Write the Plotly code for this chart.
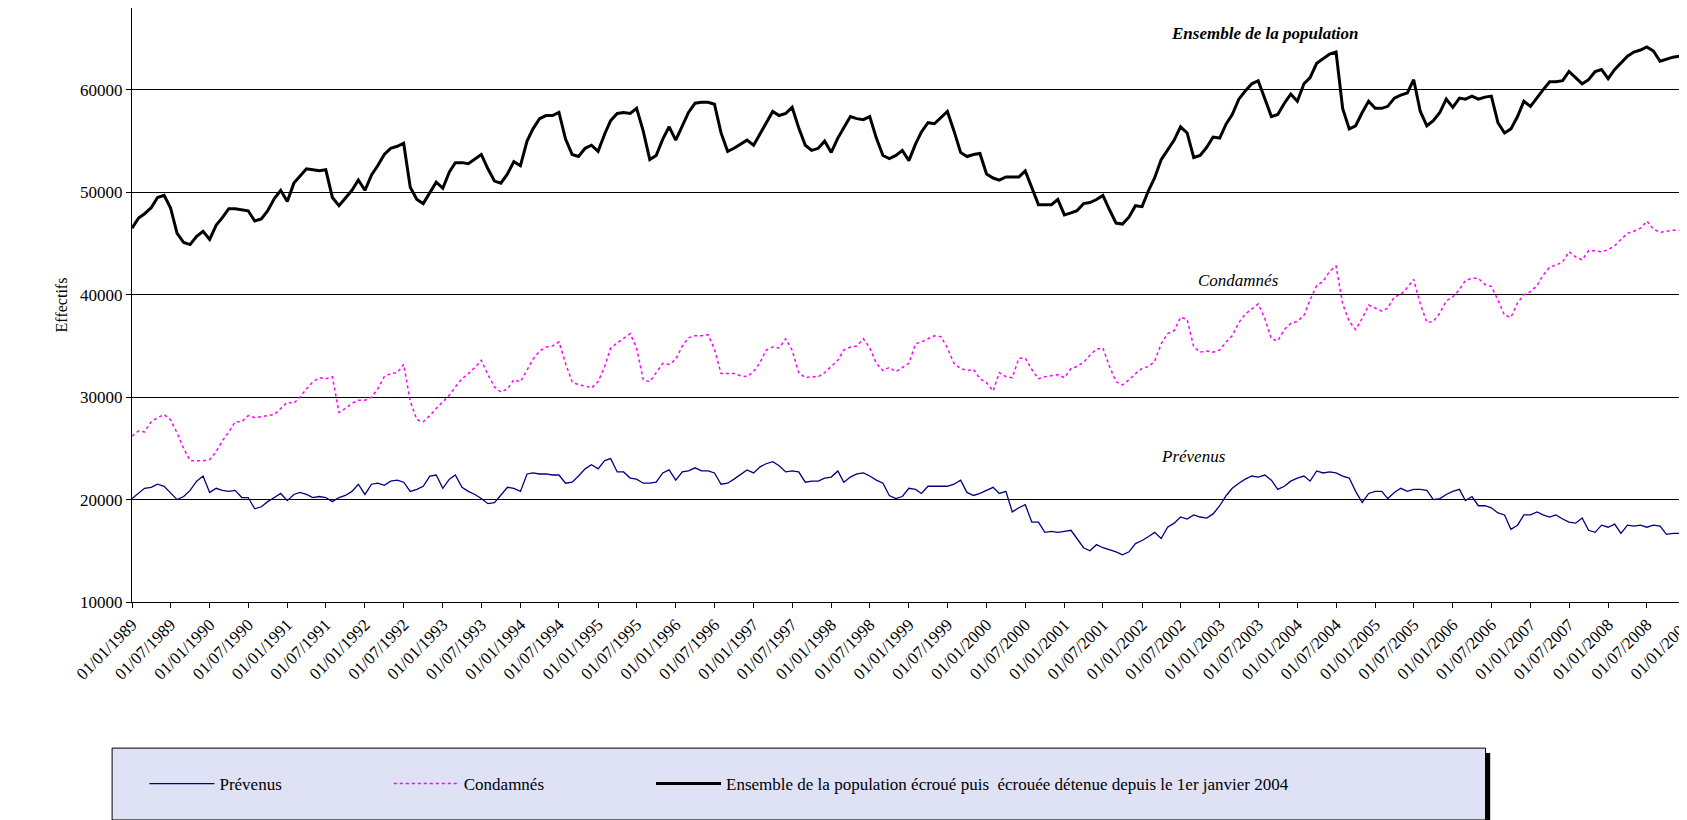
import plotly.graph_objects as go
import pandas as pd

# monthly values, Jan 1989 .. Jan 2009
ensemble = [
    46500, 47500, 47900, 48500, 49500, 49700, 48500, 46000, 45100, 44900, 45700, 46200,
    45400, 46800, 47500, 48400, 48400, 48300, 48200, 47200, 47400, 48200, 49400, 50200,
    49100, 50900, 51600, 52300, 52200, 52100, 52200, 49500, 48700, 49400, 50200, 51200,
    50200, 51700, 52600, 53700, 54300, 54500, 54800, 50500, 49300, 48900, 50000, 51000,
    50400, 52000, 52900, 52900, 52800, 53300, 53700, 52300, 51100, 50900, 51800, 53000,
    52600, 55000, 56200, 57200, 57500, 57500, 57800, 55200, 53700, 53500, 54300, 54600,
    54000, 55700, 57000, 57700, 57800, 57700, 58200, 56000, 53200, 53600, 55200, 56400,
    55100, 56500, 57800, 58700, 58800, 58800, 58600, 55800, 54000, 54300, 54700, 55100,
    54600, 55700, 56700, 57900, 57500, 57700, 58300, 56300, 54600, 54100, 54300, 55000,
    53900, 55300, 56300, 57400, 57200, 57100, 57400, 55300, 53600, 53300, 53600, 54100,
    53100, 54700, 55900, 56800, 56700, 57300, 57900, 56000, 53900, 53500, 53700, 53800,
    51800, 51400, 51200, 51500, 51500, 51500, 52100, 50500, 48800, 48800, 48800, 49300,
    47800, 48000, 48200, 48900, 49000, 49300, 49700, 48300, 47000, 46900, 47600, 48700,
    48600, 50200, 51400, 53200, 54200, 55100, 56400, 55800, 53400, 53600, 54400, 55400,
    55300, 56700, 57600, 59100, 59900, 60600, 60900, 59200, 57400, 57600, 58700, 59600,
    58900, 60600, 61200, 62600, 63000, 63500, 63700, 58200, 56200, 56500, 57800, 58900,
    58200, 58200, 58400, 59200, 59500, 59700, 61000, 57900, 56500, 57000, 57800, 59100,
    58300, 59200, 59100, 59400, 59100, 59300, 59400, 56800, 55800, 56200, 57400, 58900,
    58400, 59300, 60000, 60800, 60800, 60900, 61800, 61200, 60600, 61000, 61800, 62000,
    61100, 62000, 62600, 63300, 63700, 63900, 64200, 63800, 62800, 63000, 63200, 63300,
    63300,
]
condamnes = [
    26200, 26700, 26600, 27600, 28000, 28300, 27800, 26500, 25000, 23800, 23800, 23800,
    23900, 24700, 25700, 26600, 27600, 27600, 28200, 28000, 28100, 28200, 28300, 28900,
    29500, 29400, 30000, 30800, 31500, 31900, 31800, 32000, 28500, 28900, 29400, 29700,
    29700, 30000, 30800, 32000, 32300, 32400, 33200, 29600, 27800, 27600, 28200, 28900,
    29500, 30200, 31000, 31800, 32300, 32900, 33600, 32200, 31000, 30500, 30800, 31700,
    31500, 32700, 33700, 34500, 34900, 35000, 35400, 33300, 31500, 31200, 31100, 30900,
    31500, 33000, 34800, 35300, 35700, 36200, 34800, 31700, 31500, 32400, 33300, 33200,
    33700, 35000, 35800, 36000, 36000, 36100, 34700, 32300, 32300, 32300, 32100, 32000,
    32500, 33400, 34600, 34900, 34800, 35700, 34600, 32400, 31900, 32000, 32000, 32400,
    33000, 33600, 34600, 34900, 35000, 35700, 34800, 33300, 32600, 32900, 32500, 32900,
    33300, 35200, 35400, 35700, 36000, 35900, 34800, 33300, 32800, 32600, 32700, 31800,
    31400, 30600, 32400, 32000, 31900, 33800, 33800, 32700, 31800, 32000, 32100, 32200,
    31900, 32800, 33000, 33400, 34100, 34700, 34800, 33000, 31500, 31200, 31700, 32300,
    32800, 33000, 33500, 35200, 36200, 36500, 37800, 37600, 34900, 34400, 34500, 34400,
    34600, 35400, 36000, 37300, 38100, 38600, 39100, 37700, 35700, 35500, 36600, 37200,
    37400, 38000, 39500, 40900, 41300, 42300, 42800, 39100, 37400, 36600, 37700, 39000,
    38700, 38400, 38700, 39800, 40000, 40700, 41500, 39100, 37300, 37400, 38200, 39400,
    39800, 40500, 41400, 41600, 41600, 41000, 40800, 39500, 38000, 37800, 39200, 40000,
    40300, 40900, 41900, 42700, 42900, 43200, 44200, 43700, 43400, 44300, 44300, 44200,
    44400, 44800, 45400, 46000, 46200, 46500, 47200, 46400, 46100, 46200, 46300, 46300,
    46300,
]
prevenus = [
    20100, 20600, 21100, 21200, 21500, 21300, 20700, 20000, 20300, 20900, 21800, 22300,
    20700, 21100, 20900, 20800, 20900, 20200, 20200, 19100, 19300, 19800, 20200, 20600,
    19900, 20500, 20700, 20500, 20200, 20300, 20200, 19800, 20200, 20400, 20800, 21500,
    20500, 21500, 21600, 21400, 21800, 21900, 21700, 20800, 21000, 21300, 22300, 22400,
    21100, 22000, 22400, 21200, 20800, 20500, 20100, 19600, 19700, 20400, 21200, 21100,
    20800, 22500, 22600, 22500, 22500, 22400, 22400, 21600, 21700, 22300, 23000, 23400,
    23000, 23800, 24000, 22700, 22700, 22100, 22000, 21600, 21600, 21700, 22600, 22900,
    21900, 22700, 22800, 23100, 22800, 22800, 22600, 21500, 21600, 22000, 22500, 22900,
    22600, 23200, 23500, 23700, 23300, 22700, 22800, 22700, 21700, 21800, 21800, 22100,
    22200, 22800, 21700, 22200, 22500, 22600, 22300, 21900, 21600, 20400, 20100, 20300,
    21100, 21000, 20600, 21300, 21300, 21300, 21300, 21500, 21900, 20700, 20400, 20600,
    20900, 21200, 20600, 20800, 18800, 19200, 19500, 17800, 17800, 16800, 16900, 16800,
    16900, 17000, 16200, 15300, 15000, 15600, 15300, 15100, 14900, 14600, 14900, 15700,
    16000, 16400, 16800, 16200, 17300, 17700, 18300, 18100, 18500, 18300, 18200, 18600,
    19400, 20400, 21100, 21600, 22000, 22300, 22200, 22400, 21900, 21000, 21300, 21800,
    22100, 22300, 21800, 22800, 22600, 22700, 22600, 22300, 22100, 20800, 19700, 20600,
    20800, 20800, 20100, 20700, 21100, 20800, 21000, 21000, 20900, 20000, 20100, 20500,
    20800, 21000, 19900, 20300, 19400, 19400, 19200, 18700, 18500, 17100, 17500, 18500,
    18500, 18800, 18500, 18300, 18500, 18100, 17800, 17700, 18200, 17000, 16800, 17500,
    17300, 17600, 16700, 17500, 17400, 17500, 17300, 17500, 17400, 16600, 16700, 16700,
    16700,
]
dates = pd.date_range("1989-01-01", periods=len(ensemble), freq="MS")
tick_dates = pd.date_range("1989-01-01", "2009-01-01", freq="6MS")
tick_labels = [d.strftime("%d/%m/%Y") for d in tick_dates]
pad = "\u00a0" * 24

fig = go.Figure()
fig.add_trace(go.Scatter(x=dates, y=prevenus, mode="lines", name="Prévenus" + pad,
                         line=dict(color="#000080", width=1.3)))
fig.add_trace(go.Scatter(x=dates, y=condamnes, mode="lines", name="Condamnés" + pad,
                         line=dict(color="#ff00ff", width=1.5, dash="dot")))
fig.add_trace(go.Scatter(x=dates, y=ensemble, mode="lines",
                         name="Ensemble de la population écroué puis  écrouée détenue depuis le 1er janvier 2004",
                         line=dict(color="black", width=3)))

fig.add_annotation(x="2003-08-01", y=65500, text="<b><i>Ensemble de la population</i></b>",
                   showarrow=False, font=dict(size=17))
fig.add_annotation(x="2003-04-01", y=41400, text="<i>Condamnés</i>", showarrow=False, font=dict(size=17))
fig.add_annotation(x="2002-09-01", y=24200, text="<i>Prévenus</i>", showarrow=False, font=dict(size=17))

# legend box with shadow
fig.add_shape(type="rect", xref="paper", yref="paper", x0=-0.0096, x1=0.874, y0=-0.375, y1=-0.254,
              fillcolor="black", line_width=0, layer="below")
fig.add_shape(type="rect", xref="paper", yref="paper", x0=-0.0128, x1=0.871, y0=-0.367, y1=-0.246,
              fillcolor="#dfe2f5", line=dict(color="black", width=1), layer="below")

fig.update_layout(
    width=1687, height=820,
    margin=dict(l=124, r=4, t=0, b=226),
    plot_bgcolor="white", paper_bgcolor="white",
    font=dict(family="Liberation Serif, Times New Roman, serif", size=17, color="black"),
    showlegend=True,
    legend=dict(orientation="h", x=0.008, y=-0.3065, xanchor="left", yanchor="middle",
                bgcolor="rgba(0,0,0,0)", borderwidth=0,
                itemwidth=65, font=dict(size=17)),
)
fig.update_xaxes(range=["1989-01-01", "2009-01-01"], tickvals=tick_dates, ticktext=tick_labels,
                 tickangle=-45, showgrid=False, showline=True, ticklabeloverflow="allow",
                 linecolor="black", ticks="outside", ticklen=5, tickcolor="black")
fig.update_yaxes(range=[10000, 68000], dtick=10000, tick0=10000, tickformat="d",
                 showgrid=True, gridcolor="black", gridwidth=0.6, showline=True,
                 linecolor="black", ticks="outside", ticklen=5, tickcolor="black",
                 title=dict(text="Effectifs", standoff=8, font=dict(size=16)))

fig.write_html("out.html")
